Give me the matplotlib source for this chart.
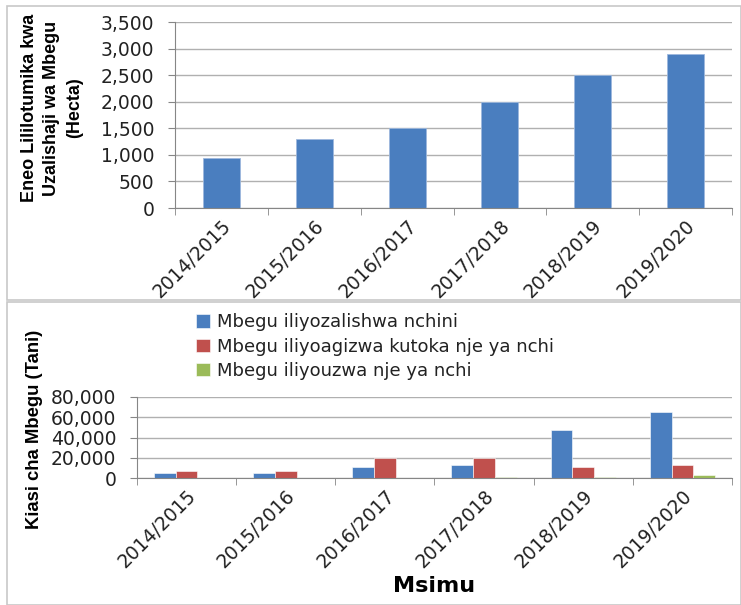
import numpy as np
import matplotlib.pyplot as plt
from matplotlib.patches import Rectangle

plt.rcParams['font.family'] = 'DejaVu Sans'

seasons = ["2014/2015", "2015/2016", "2016/2017", "2017/2018", "2018/2019", "2019/2020"]
area_ha = [950, 1300, 1500, 2000, 2500, 2900]

seed_local = [4800, 5200, 11000, 13000, 47000, 65000]
seed_imported = [7000, 6500, 20000, 19600, 11000, 12400]
seed_exported = [0, 0, 0, 500, 500, 2500]

series_names = ["Mbegu iliyozalishwa nchini",
                "Mbegu iliyoagizwa kutoka nje ya nchi",
                "Mbegu iliyouzwa nje ya nchi"]
colors = ["#4a7ebf", "#c0504d", "#9bbb59"]

W, H = 741, 605
fig = plt.figure(figsize=(W / 100, H / 100), dpi=100)

def box(x0, y0, x1, y1):
    # panel frame in pixel coords
    fig.patches.append(Rectangle((x0 / W, 1 - y1 / H), (x1 - x0) / W, (y1 - y0) / H,
                                 transform=fig.transFigure, fill=False,
                                 edgecolor="#c8c8c8", linewidth=1.2))

def axes_px(x0, y0, x1, y1):
    return fig.add_axes([x0 / W, 1 - y1 / H, (x1 - x0) / W, (y1 - y0) / H])

def style(ax, n):
    ax.set_xlim(-0.5, n - 0.5)
    for s in ["top", "right"]:
        ax.spines[s].set_visible(False)
    ax.spines["left"].set_color("#868686")
    ax.spines["bottom"].set_color("#868686")
    ax.yaxis.grid(True, color="#b0b0b0", linewidth=1)
    ax.set_axisbelow(True)
    ax.set_xticks(np.arange(n))
    ax.set_xticks(np.arange(n + 1) - 0.5, minor=True)
    ax.tick_params(axis="x", which="major", length=0, pad=6)
    ax.tick_params(axis="x", which="minor", length=5, color="#868686")
    ax.tick_params(axis="y", length=5, color="#868686", pad=10)
    ax.set_xticklabels(seasons, rotation=45, ha="right", rotation_mode="anchor",
                       color="#222222", fontsize=13.5)
    ax.set_yticklabels([f"{int(v):,}" for v in ax.get_yticks()],
                       color="#222222", fontsize=13.5)

box(7, 6, 741, 300)
box(7, 302, 741, 605)

# top chart
x = np.arange(len(seasons))
ax1 = axes_px(175, 22, 732, 208)
ax1.bar(x, area_ha, width=0.4, color=colors[0], edgecolor="#9db8dd", linewidth=0.6)
ax1.set_ylim(0, 3500)
ax1.set_yticks(np.arange(0, 3501, 500))
style(ax1, len(seasons))
fig.text(52 / W, 1 - 108 / H, "Eneo Lililotumika kwa\nUzalishaji wa Mbegu\n(Hecta)",
         rotation=90, ha="center", va="center", fontsize=13, fontweight="bold",
         family="Liberation Sans", linespacing=1.45)

# bottom chart
ax2 = axes_px(137, 397, 732, 478)
w = 0.22
for i, (vals, name) in enumerate(zip([seed_local, seed_imported, seed_exported], series_names)):
    ax2.bar(x + (i - 1) * w, vals, width=w, color=colors[i], label=name,
            edgecolor="white", linewidth=0.4)
ax2.set_ylim(0, 80000)
ax2.set_yticks(np.arange(0, 80001, 20000))
style(ax2, len(seasons))
ax2.set_xlabel("Msimu", fontsize=16, fontweight="bold", labelpad=3)
fig.text(35 / W, 1 - 429 / H, "Kiasi cha Mbegu (Tani)", rotation=90, ha="center",
         va="center", fontsize=13.3, fontweight="bold", family="Liberation Sans")
leg = fig.legend(loc="upper left", bbox_to_anchor=(189 / W, 1 - 306 / H), frameon=False,
                 fontsize=13, handlelength=0.75, handleheight=0.75, handletextpad=0.4,
                 labelspacing=0.35, borderaxespad=0)
for t in leg.get_texts():
    t.set_color("#222222")

fig.savefig("out.png", dpi=100)
